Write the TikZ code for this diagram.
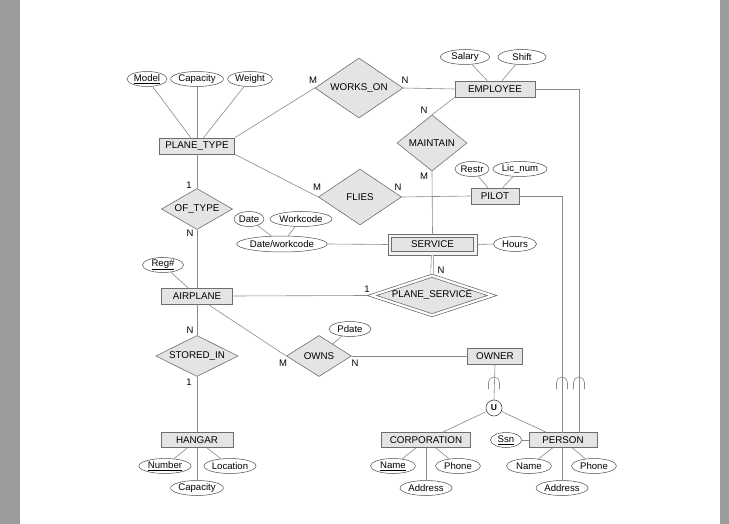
\documentclass[tikz,border=0pt]{standalone}
\usepackage{fontspec}
\setmainfont{Liberation Sans}
\usetikzlibrary{shapes.geometric,calc}
\definecolor{edgegray}{HTML}{8A8A8A}
\definecolor{boxfill}{HTML}{E4E4E4}
\definecolor{boxdraw}{HTML}{6E6E6E}
\definecolor{frame}{HTML}{9C9C9C}
\tikzset{
  ent/.style={draw=boxdraw, fill=boxfill, line width=0.7pt, inner sep=0pt, minimum height=16pt, font=\fontsize{9.8}{11}\selectfont},
  rel/.style={diamond, aspect=3, draw=boxdraw, fill=boxfill, line width=0.6pt, inner sep=0pt, font=\fontsize{9.8}{11}\selectfont},
  inner/.style={draw=boxdraw, fill=boxfill, line width=0.6pt, inner sep=0pt},
  attr/.style={ellipse, draw=black!70, fill=white, line width=0.5pt, inner sep=0pt, minimum height=15pt, font=\fontsize{9.6}{11}\selectfont},
  lbl/.style={font=\fontsize{9.5}{11}\selectfont, inner sep=0pt},
  conn/.style={draw=edgegray, line width=0.6pt},
  subsetarc/.style={draw=edgegray, line width=0.6pt},
}
\begin{document}
\begin{tikzpicture}[x=1pt,y=-1pt]
\useasboundingbox (0,0) rectangle (729,524);
\fill[white] (0,0) rectangle (729,524);
\fill[frame] (0,0) rectangle (20,524);
\fill[frame] (720,0) rectangle (729,524);

% entities
\node[ent, minimum width=75pt] (PT) at (197,146) {PLANE\_TYPE};
\node[ent, minimum width=80pt] (EMP) at (495,89) {EMPLOYEE};
\node[ent, minimum width=48pt] (PIL) at (495,196) {PILOT};
\node[ent, fill=white!60!boxfill, minimum width=89pt, minimum height=21pt] (SRV) at (432.5,244.5) {};
\node[inner, minimum width=82.4pt, minimum height=14.4pt, font=\fontsize{9.8}{11}\selectfont] (SRVi) at (432.5,244.5) {SERVICE};
\node[ent, minimum width=71pt] (AIR) at (197,296) {AIRPLANE};
\node[ent, minimum width=55pt] (OWN) at (495,356) {OWNER};
\node[ent, minimum width=72pt, minimum height=15pt] (HAN) at (197,440) {HANGAR};
\node[ent, minimum width=89pt, minimum height=15pt] (COR) at (426,440) {CORPORATION};
\node[ent, minimum width=68pt, minimum height=15pt] (PER) at (563,440) {PERSON};

% relationships
\node[rel, minimum width=88pt, minimum height=60pt] (WO) at (359,88) {WORKS\_ON};
\node[rel, minimum width=70pt, minimum height=56pt] (MA) at (432,143) {MAINTAIN};
\node[rel, minimum width=83pt, minimum height=56pt] (FL) at (360,197) {FLIES};
\node[rel, minimum width=68pt, minimum height=41pt] (OT) at (197,209) {OF\_TYPE};
\node[rel, fill=white, minimum width=130pt, minimum height=43pt] (PS) at (432,295.5) {};
\node[diamond, aspect=3, inner, minimum width=111pt, minimum height=36.6pt, font=\fontsize{9.8}{11}\selectfont] (PSi) at (432,295.5) {PLANE\_SERVICE};
\node[rel, minimum width=65pt, minimum height=41pt] (OW) at (319,356) {OWNS};
\node[rel, minimum width=81pt, minimum height=41pt] (SI) at (197,356) {STORED\_IN};
\node[circle, draw=black!70, fill=white, line width=0.6pt, inner sep=0pt, minimum size=16pt, font=\fontsize{8.5}{10}\selectfont\bfseries] (U) at (494,408) {U};

% attributes
\node[attr, minimum width=40pt] (Model) at (147,79) {\underline{Model}};
\node[attr, minimum width=50pt] (Cap) at (197,79) {Capacity};
\node[attr, minimum width=45pt] (Wt) at (250,79) {Weight};
\node[attr, minimum width=49pt] (Sal) at (465,57) {Salary};
\node[attr, minimum width=48pt] (Shf) at (522,57) {Shift};
\node[attr, minimum width=34pt] (Res) at (472,169) {Restr};
\node[attr, minimum width=54pt] (Lic) at (520,169) {Lic\_num};
\node[attr, minimum width=30pt] (Dat) at (249,219) {Date};
\node[attr, minimum width=62pt] (Wc) at (301,219) {Workcode};
\node[attr, minimum width=89pt, minimum height=16pt] (DW) at (282,244) {Date/workcode};
\node[attr, minimum width=43pt] (Hrs) at (515,244) {Hours};
\node[attr, minimum width=41pt] (Reg) at (163,265) {\underline{Reg\#}};
\node[attr, minimum width=42pt] (Pd) at (350,329) {Pdate};
\node[attr, minimum width=52pt] (Num) at (165,466) {\underline{Number}};
\node[attr, minimum width=52pt] (Loc) at (230,466) {Location};
\node[attr, minimum width=52pt] (HCap) at (197,488) {Capacity};
\node[attr, minimum width=45pt] (CNm) at (393,466) {\underline{Name}};
\node[attr, minimum width=45pt] (CPh) at (458,466) {Phone};
\node[attr, minimum width=52pt] (CAd) at (426,488) {Address};
\node[attr, minimum width=31pt] (Ssn) at (506,440) {\underline{Ssn}};
\node[attr, minimum width=45pt] (PNm) at (529,466) {Name};
\node[attr, minimum width=45pt] (PPh) at (594,466) {Phone};
\node[attr, minimum width=52pt] (PAd) at (562,488) {Address};

% helper coordinates
\coordinate (e1) at (579,89);
\coordinate (e2) at (579,432.5);
\coordinate (p1) at (562,196);
\coordinate (p2) at (562,432.5);

% connectors
\path[conn] (Model) -- (PT);
\path[conn] (Cap) -- (PT);
\path[conn] (Wt) -- (PT);
\path[conn] (PT.north east) -- (WO.west);
\path[conn] (WO.east) -- (EMP.west);
\path[conn] (Sal) -- (EMP);
\path[conn] (Shf) -- (EMP);
\path[conn] (EMP.south west) -- (MA.north);
\path[conn] (MA.south) -- (SRV.north);
\path[conn] (EMP.east) -- (e1) -- (e2);
\path[conn] (PT.south east) -- (FL.west);
\path[conn] (FL.east) -- (PIL.west);
\path[conn] (Res) -- (PIL);
\path[conn] (Lic) -- (PIL);
\path[conn] (PIL.east) -- (p1) -- (p2);
\path[conn] (PT.south) -- (OT.north);
\path[conn] (OT.south) -- (AIR.north);
\path[conn] (Dat) -- (DW);
\path[conn] (Wc) -- (DW);
\path[conn] (DW.east) -- (SRV.west);
\path[conn] (SRV.east) -- (Hrs.west);
\draw[draw=edgegray, line width=0.6pt, double=white, double distance=1.8pt] (SRV.south) -- (PS.north);
\path[conn] (Reg) -- (AIR);
\path[conn] (AIR.east) -- (PS.west);
\path[conn] ([xshift=11pt]AIR.south) -- (OW.west);
\path[conn] (OW.east) -- (OWN.west);
\path[conn] (Pd) -- (OW);
\path[conn] (AIR.south) -- (SI.north);
\path[conn] (SI.south) -- (HAN.north);
\path[conn] (Num) -- (HAN);
\path[conn] (Loc) -- (HAN);
\path[conn] (HAN.south) -- (HCap.north);
\path[conn] (OWN.south) -- (U.north);
\path[conn] (U) -- (COR);
\path[conn] (U) -- (PER);
\path[conn] (Ssn.east) -- (PER.west);
\path[conn] (CNm) -- (COR);
\path[conn] (CPh) -- (COR);
\path[conn] (COR.south) -- (CAd.north);
\path[conn] (PNm) -- (PER);
\path[conn] (PPh) -- (PER);
\path[conn] (PER.south -| PAd.north) -- (PAd.north);

% subset symbols
\foreach \xx in {494,562,579}{
  \draw[subsetarc] (\xx-5.5,389) -- (\xx-5.5,382.5) arc[start angle=180, end angle=0, radius=5.5pt] -- (\xx+5.5,389);
}

% cardinality labels
\node[lbl] (l1) at (313,80) {M};
\node[lbl] (l2) at (405,80) {N};
\node[lbl] (l3) at (424,110) {N};
\node[lbl] (l4) at (424,176) {M};
\node[lbl] (l5) at (317,187) {M};
\node[lbl] (l6) at (398,187) {N};
\node[lbl] (l7) at (189,185) {1};
\node[lbl] (l8) at (190,233) {N};
\node[lbl] (l9) at (367,289) {1};
\node[lbl] (l10) at (441,270) {N};
\node[lbl] (l11) at (283,363) {M};
\node[lbl] (l12) at (355,363) {N};
\node[lbl] (l13) at (190,330) {N};
\node[lbl] (l14) at (189,382) {1};
\end{tikzpicture}
\end{document}
